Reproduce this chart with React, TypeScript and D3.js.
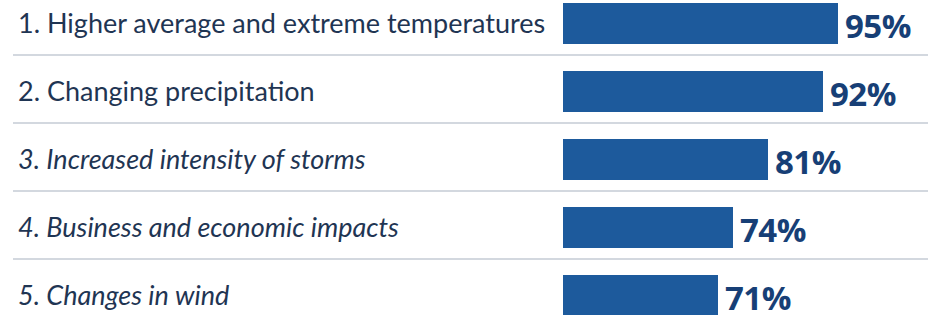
import React, { useEffect, useRef } from 'react';
import * as d3 from 'd3';

const categories = [
  '1. Higher average and extreme temperatures',
  '2. Changing precipitation',
  '3. Increased intensity of storms',
  '4. Business and economic impacts',
  '5. Changes in wind',
];
const values = [95, 92, 81, 74, 71];

const width = 938;
const height = 315;
const rowStep = 68;
const barHeight = 41;
const barLeft = 563;

const App = () => {
  const svgRef = useRef(null);

  useEffect(() => {
    const svg = d3.select(svgRef.current);
    svg.selectAll('*').remove();

    const y = d3
      .scaleBand()
      .domain(categories)
      .range([-13, -13 + rowStep * categories.length])
      .padding(0);

    const x = d3.scaleLinear().domain([40, 100]).range([barLeft, barLeft + 300]);

    const rows = svg
      .selectAll('g.row')
      .data(categories)
      .join('g')
      .attr('class', 'row')
      .attr('transform', (d) => `translate(0,${y(d)})`);

    // separators between rows
    rows
      .filter((d, i) => i > 0)
      .append('line')
      .attr('x1', 13)
      .attr('x2', 928)
      .attr('y1', 0)
      .attr('y2', 0)
      .attr('stroke', '#d3d8df')
      .attr('stroke-width', 2);

    rows
      .append('text')
      .attr('x', 18)
      .attr('y', 16 + barHeight / 2)
      .attr('dy', '0.35em')
      .attr('font-family', 'Lato, sans-serif')
      .attr('font-size', 27)
      .attr('font-style', (d, i) => (i >= 2 ? 'italic' : 'normal'))
      .attr('fill', '#1f3553')
      .text((d) => d);

    rows
      .append('rect')
      .attr('x', barLeft)
      .attr('y', 16)
      .attr('width', (d, i) => x(values[i]) - barLeft)
      .attr('height', barHeight)
      .attr('fill', '#1d5a9c');

    rows
      .append('text')
      .attr('x', (d, i) => x(values[i]) + 7)
      .attr('y', 16 + barHeight / 2 + 3)
      .attr('dy', '0.36em')
      .attr('font-family', '"Open Sans", sans-serif')
      .attr('font-weight', 700)
      .attr('font-size', 33)
      .attr('letter-spacing', -0.5)
      .attr('fill', '#173f76')
      .text((d, i) => `${values[i]}%`);
  }, []);

  return (
    <svg
      ref={svgRef}
      width={width}
      height={height}
      viewBox={`0 0 ${width} ${height}`}
      style={{ display: 'block', position: 'absolute', left: 0, top: 0, background: '#fff' }}
    ></svg>
  );
};

export default App;
